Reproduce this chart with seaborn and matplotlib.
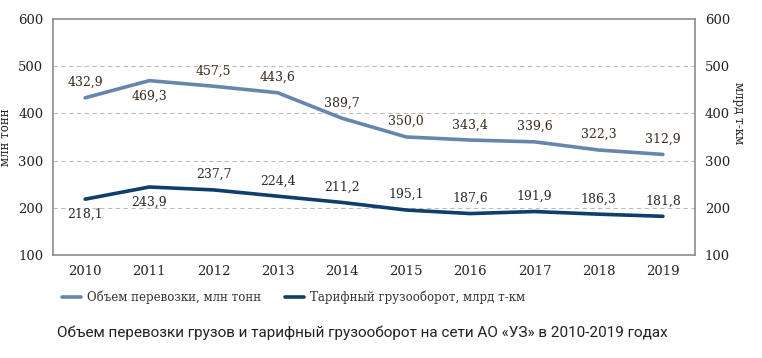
import pandas as pd
import matplotlib.pyplot as plt
import seaborn as sns

# --- данные ---
years = [2010, 2011, 2012, 2013, 2014, 2015, 2016, 2017, 2018, 2019]
volume = [432.9, 469.3, 457.5, 443.6, 389.7, 350.0, 343.4, 339.6, 322.3, 312.9]
turnover = [218.1, 243.9, 237.7, 224.4, 211.2, 195.1, 187.6, 191.9, 186.3, 181.8]
# положение подписей: 1 - над линией, -1 - под линией
volume_pos = [1, -1, 1, 1, 1, 1, 1, 1, 1, 1]
turnover_pos = [-1, -1, 1, 1, 1, 1, 1, 1, 1, 1]
yticks = [100, 200, 300, 400, 500, 600]

name_vol = 'Объем перевозки, млн тонн'
name_turn = 'Тарифный грузооборот, млрд т-км'
caption = 'Объем перевозки грузов и тарифный грузооборот на сети АО «УЗ» в 2010-2019 годах'

df = pd.DataFrame({
    'Год': years * 2,
    'Значение': volume + turnover,
    'Серия': [name_vol] * len(years) + [name_turn] * len(years),
})

sns.set_style('white')
plt.rcParams['font.family'] = ['DejaVu Serif']

fig = plt.figure(figsize=(7.62, 3.58), dpi=100)
ax = fig.add_axes([0.0696, 0.288, 0.8425, 0.659])

sns.lineplot(data=df, x='Год', y='Значение', hue='Серия',
             palette={name_vol: '#6786ad', name_turn: '#0d3f6a'},
             linewidth=2.6, ax=ax, legend=True)

ax.set_xlim(2009.5, 2019.5)
ax.set_ylim(100, 600)
ax.set_xticks(years)
ax.set_xticklabels([str(y) for y in years])
ax.set_yticks(yticks)
ax.set_xlabel('')
ax.set_ylabel('млн тонн', fontsize=8.5, color='#222222')
ax.yaxis.set_label_coords(-0.064, 0.5)
ax.tick_params(axis='both', length=0, labelsize=9.5, colors='#222222', pad=7)
for y in [200, 300, 400, 500]:
    ax.axhline(y, color='#bdbdbd', lw=0.8, ls=(0, (4, 3)), zorder=0)
for s in ax.spines.values():
    s.set_color('#8c8c8c')
    s.set_linewidth(1.2)

# подписи значений
for x, v, p in zip(years, volume, volume_pos):
    ax.annotate(f'{v:.1f}'.replace('.', ','), (x, v), xytext=(0, 11 * p),
                textcoords='offset points', ha='center', va='center',
                fontsize=9, color='#3b2a1c')
for x, v, p in zip(years, turnover, turnover_pos):
    ax.annotate(f'{v:.1f}'.replace('.', ','), (x, v), xytext=(0, 11 * p),
                textcoords='offset points', ha='center', va='center',
                fontsize=9, color='#2a2a2a')

# правая ось
ax2 = ax.twinx()
ax2.set_ylim(100, 600)
ax2.set_yticks(yticks)
ax2.tick_params(axis='y', length=0, labelsize=9.5, colors='#222222', pad=7)
ax2.set_ylabel('млрд т-км', fontsize=8.5, color='#222222', rotation=270, va='center')
ax2.yaxis.set_label_coords(1.067, 0.6)
for s in ax2.spines.values():
    s.set_visible(False)

# легенда
handles, labels = ax.get_legend_handles_labels()
ax.get_legend().remove()
fig.legend(handles, labels, loc='center left', bbox_to_anchor=(0.068, 0.17),
           ncol=2, frameon=False, fontsize=8.5, handlelength=1.6,
           columnspacing=2.0, handletextpad=0.5, labelcolor='#333333')

fig.text(0.475, 0.07, caption, ha='center', va='center', fontsize=11,
         family=['Roboto', 'DejaVu Sans'], color='#222222')

fig.savefig('out.png', dpi=100)
